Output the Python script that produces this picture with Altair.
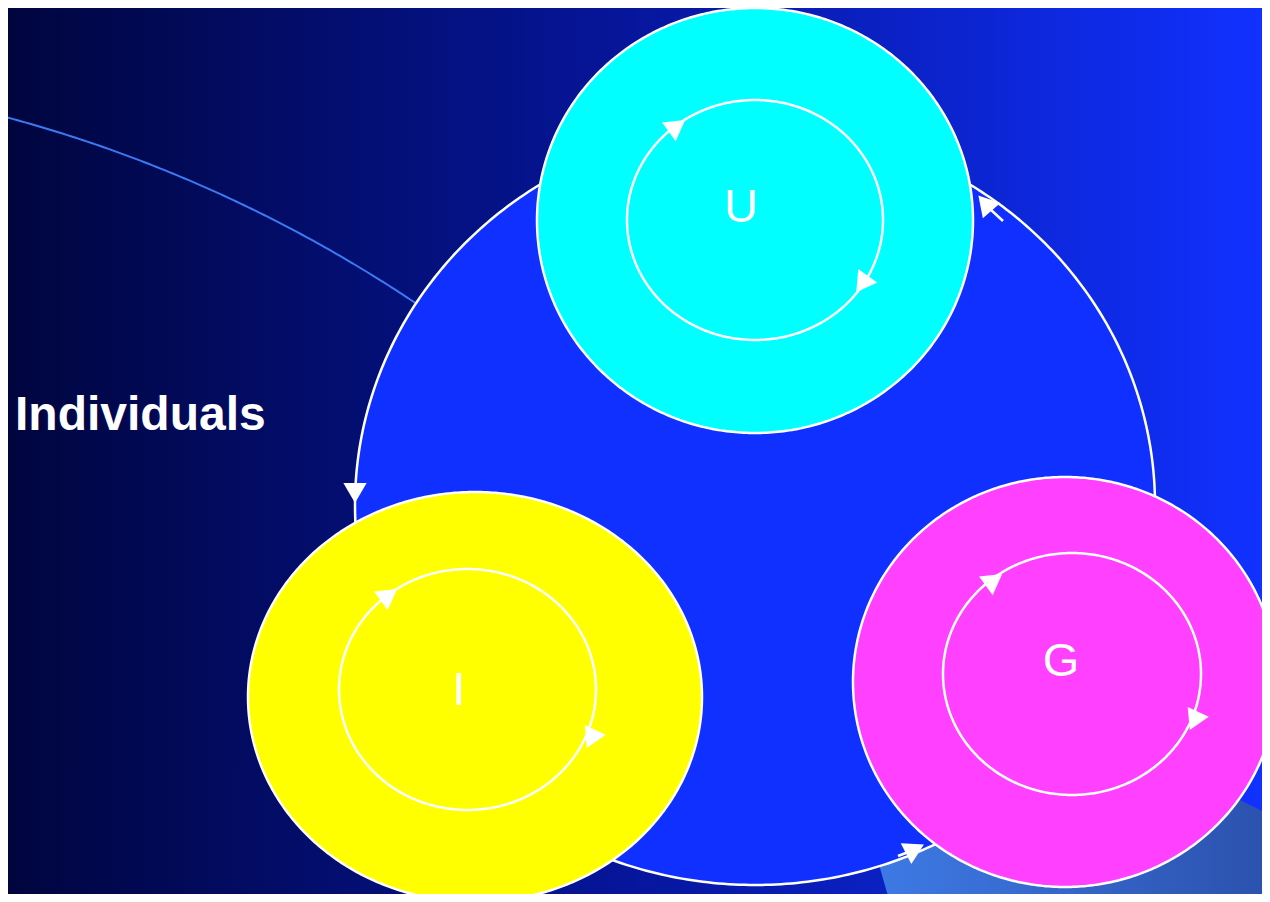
import numpy as np
import pandas as pd
import altair as alt

# ---------------- values (slide pixel space, 1270 x 902) ----------------
# large ellipses: the big cycle disc and the three coloured discs
shape_names = ["cycle", "U", "I", "G"]
shape_cx = [755, 755, 475, 1065]
shape_cy = [505, 220.5, 697, 682]
shape_rx = [400, 218, 227, 212]
shape_ry = [380, 212.5, 205, 205]
shape_fill = ["#1030ff", "#00ffff", "#ffff00", "#ff40ff"]

# inner white rings inside each coloured disc
ring_names = ["U", "I", "G"]
ring_cx = [755, 467.5, 1072]
ring_cy = [220, 689.5, 674]
ring_rx = [128, 128.5, 129]
ring_ry = [120, 120.5, 121]

# arrow heads (centre, direction in degrees clockwise from "up")
arrow_x = [677, 862, 389, 591, 994, 1194, 355, 985, 915]
arrow_y = [126, 284, 595, 739, 580, 721, 493, 203, 849]
arrow_angle = [54, 215, 54, 205, 54, 205, 180, 319, 63]

# short tails next to the cycle arrow heads
stub_x = [990, 898]
stub_y = [209, 856]
stub_x2 = [1003, 911]
stub_y2 = [221, 851]

# letters in the discs
label_text = ["U", "I", "G"]
label_x = [741, 459, 1061]
label_y = [222, 705, 676]

# side caption
caption_text = ["Individuals"]
caption_x = [15]
caption_y = [430]

# decorative thin arc of the slide template (circle centre / radius / angular span)
deco_cx, deco_cy, deco_r = -351, 1447, 1377
deco_span = [-76.5, -55.0]

# decorative light band at the lower right (outline corners)
band_x = [797, 890, 1280]
band_y = [578.5, 625, 820]
band_y2 = [578.5, 903, 903]

# ---------------- chart frame (page margin is 8 px; keep slide pixels aligned) ----------------
W, H = 1254, 886
OX, OY = 8, 8
xsc = alt.Scale(domain=[OX, OX + W], nice=False, zero=False)
ysc = alt.Scale(domain=[OY, OY + H], nice=False, zero=False, reverse=True)


def X(f):
    return alt.X(f, type="quantitative", scale=xsc, axis=None)


def Y(f):
    return alt.Y(f, type="quantitative", scale=ysc, axis=None)


layers = []

# background gradient
bg = pd.DataFrame({"k": [0]})
layers.append(
    alt.Chart(bg).mark_rect(
        fill=alt.LinearGradient(
            gradient="linear", x1=0, y1=0, x2=1, y2=0,
            stops=[
                alt.GradientStop(offset=0, color="#00053e"),
                alt.GradientStop(offset=0.5, color="#06169c"),
                alt.GradientStop(offset=1, color="#1131ff"),
            ],
        )
    ).encode(x=alt.value(0), x2=alt.value(W), y=alt.value(0), y2=alt.value(H))
)

# decorative arc
th = np.radians(np.linspace(deco_span[0], deco_span[1], 120))
deco = pd.DataFrame({
    "x": deco_cx + deco_r * np.cos(th),
    "y": deco_cy + deco_r * np.sin(th),
    "i": np.arange(len(th)),
})
layers.append(
    alt.Chart(deco).mark_line(color="#3b7af2", strokeWidth=2, clip=True)
    .encode(x=X("x"), y=Y("y"), order=alt.Order("i:Q"))
)

# light band
band = pd.DataFrame({"x": band_x, "y": band_y, "y2": band_y2})
layers.append(
    alt.Chart(band).mark_area(
        clip=True,
        fill=alt.LinearGradient(
            gradient="linear", x1=0, y1=0, x2=1, y2=0,
            stops=[
                alt.GradientStop(offset=0, color="#4282ee"),
                alt.GradientStop(offset=0.2, color="#3d78e2"),
                alt.GradientStop(offset=1, color="#2b50ac"),
            ],
        ),
    ).encode(x=X("x"), y=Y("y"), y2=alt.Y2("y2"))
)

# discs (filled ellipses as areas between upper and lower half)
t = np.linspace(0, np.pi, 241)
for n, cx, cy, rx, ry, col in zip(shape_names, shape_cx, shape_cy, shape_rx, shape_ry, shape_fill):
    d = pd.DataFrame({
        "x": cx - rx * np.cos(t),
        "y": cy - ry * np.sin(t),
        "y2": cy + ry * np.sin(t),
    })
    layers.append(
        alt.Chart(d).mark_area(fill=col, stroke="white", strokeWidth=2.5, clip=True)
        .encode(x=X("x"), y=Y("y"), y2=alt.Y2("y2"))
    )

# inner rings
tt = np.linspace(0, 2 * np.pi, 361)
rows = []
for n, cx, cy, rx, ry in zip(ring_names, ring_cx, ring_cy, ring_rx, ring_ry):
    for i, a in enumerate(tt):
        rows.append({"ring": n, "i": i, "x": cx + rx * np.cos(a), "y": cy + ry * np.sin(a)})
rings = pd.DataFrame(rows)
layers.append(
    alt.Chart(rings).mark_line(color="white", strokeWidth=2.5, clip=True)
    .encode(x=X("x"), y=Y("y"), detail="ring:N", order=alt.Order("i:Q"))
)

# arrow tails
stubs = pd.DataFrame({"x": stub_x, "y": stub_y, "x2": stub_x2, "y2": stub_y2})
layers.append(
    alt.Chart(stubs).mark_rule(color="white", strokeWidth=2.5, clip=True)
    .encode(x=X("x"), y=Y("y"), x2=alt.X2("x2"), y2=alt.Y2("y2"))
)

# arrow heads
arrows = pd.DataFrame({"x": arrow_x, "y": arrow_y, "angle": arrow_angle})
layers.append(
    alt.Chart(arrows).mark_point(
        shape="triangle-up", filled=True, fill="white", opacity=1, size=540, strokeWidth=0, clip=True
    ).encode(x=X("x"), y=Y("y"), angle=alt.Angle("angle:Q", scale=None))
)

# letters
labels = pd.DataFrame({"t": label_text, "x": label_x, "y": label_y})
layers.append(
    alt.Chart(labels).mark_text(
        font="Liberation Sans", fontSize=47, color="white", align="center", baseline="alphabetic"
    ).encode(x=X("x"), y=Y("y"), text="t:N")
)

# caption
cap = pd.DataFrame({"t": caption_text, "x": caption_x, "y": caption_y})
layers.append(
    alt.Chart(cap).mark_text(
        font="Liberation Sans", fontSize=48, fontWeight="bold", color="white",
        align="left", baseline="alphabetic"
    ).encode(x=X("x"), y=Y("y"), text="t:N")
)

chart = alt.layer(*layers).properties(
    width=W, height=H, padding=0, autosize=alt.AutoSizeParams(type="none")
).configure_view(stroke=None)

chart.save("out.html", embed_options={"renderer": "svg", "actions": False})
